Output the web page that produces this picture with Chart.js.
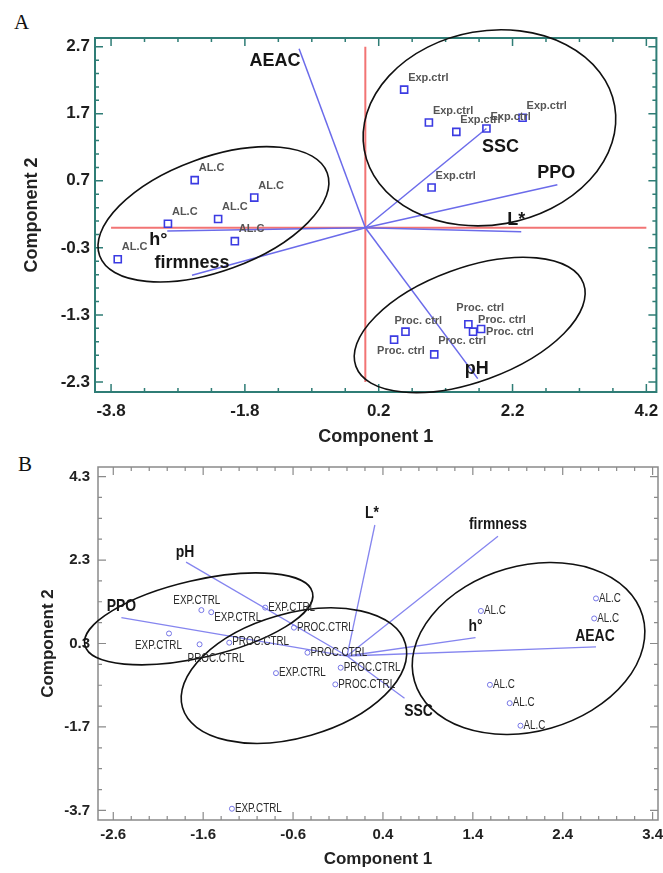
<!DOCTYPE html>
<html>
<head>
<meta charset="utf-8">
<script src="https://cdn.jsdelivr.net/npm/chart.js@4.4.1/dist/chart.umd.min.js"></script>
<style>
	body { margin: 0; background: #fff; width: 663px; height: 873px; position: relative; overflow: hidden; }
	canvas { position: absolute; left: 0; }
	#chartA { top: 0; }
	#chartB { top: 450px; }
	.tag { position: absolute; font: 21px 'Liberation Serif', 'Times New Roman', serif; color: #111; }
</style>
</head>
<body>
<div class="tag" style="left:14px; top:10px;">A</div>
<div class="tag" style="left:18px; top:452px;">B</div>
<canvas id="chartA" width="663" height="450"></canvas>
<canvas id="chartB" width="663" height="423"></canvas>
<script>
'use strict';

// ---------- panel A ----------
var aXTicks = [-3.8, -1.8, 0.2, 2.2, 4.2];
var aYTicks = [-2.3, -1.3, -0.3, 0.7, 1.7, 2.7];

var aAlcX = [-2.55, -1.66, -2.20, -2.95, -1.95, -3.70];
var aAlcY = [0.71, 0.45, 0.13, 0.06, -0.20, -0.47];
var aExpX = [0.58, 0.95, 1.36, 1.81, 2.35, 0.99];
var aExpY = [2.06, 1.57, 1.43, 1.48, 1.64, 0.60];
var aProcX = [0.43, 0.60, 1.03, 1.54, 1.61, 1.73];
var aProcY = [-1.67, -1.55, -1.89, -1.44, -1.55, -1.51];

var aVarNames = ['AEAC', 'SSC', 'PPO', 'L*', 'h°', 'firmness', 'pH'];
var aVarX = [-0.99, 1.81, 2.87, 2.33, -2.96, -2.59, 1.68];
var aVarY = [2.67, 1.48, 0.64, -0.06, -0.05, -0.71, -2.25];

// group ellipses: centre x, centre y, semi axes (x units), tilt in degrees
var aEllipses = [
	[-2.27, 0.20, 1.81, 0.85, 20],
	[1.855, 1.49, 1.90, 1.45, 10],
	[1.56, -1.45, 1.81, 0.85, 20],
];

// ---------- panel B ----------
var bXTicks = [-2.6, -1.6, -0.6, 0.4, 1.4, 2.4, 3.4];
var bYTicks = [-3.7, -1.7, 0.3, 2.3, 4.3];

var bExpX = [-1.62, -1.51, -1.98, -0.91, -0.79, -1.28];
var bExpY = [1.10, 1.05, 0.54, 1.16, -0.41, -3.66];
var bProcX = [-1.64, -1.31, -0.59, -0.44, -0.07, -0.13];
var bProcY = [0.28, 0.32, 0.68, 0.08, -0.28, -0.68];
var bAlcX = [2.77, 2.75, 1.49, 1.59, 1.81, 1.93];
var bAlcY = [1.38, 0.90, 1.08, -0.69, -1.13, -1.67];

var bVarNames = ['L*', 'firmness', 'pH', 'SSC', 'PPO', 'h°', 'AEAC'];
var bVarX = [0.31, 1.68, -1.79, 0.64, -2.51, 1.43, 2.77];
var bVarY = [3.14, 2.87, 2.25, -1.01, 0.92, 0.44, 0.22];

var bEllipses = [
	[-1.65, 0.89, 1.30, 0.43, 13],
	[-0.59, -0.47, 1.29, 0.69, 16],
	[2.02, 0.18, 1.32, 0.92, 16],
];

var SANS = "'Liberation Sans', Arial, sans-serif";
var NARROW = "'Liberation Sans Narrow', 'Arial Narrow', 'Liberation Sans', sans-serif";

function pairs(xs, ys) {
	return xs.map(function (v, i) { return { x: v, y: ys[i] }; });
}

function tickRange(first, step, min, max) {
	var out = [];
	var v = first;
	while (v - step >= min) v -= step;
	for (; v <= max + 1e-9; v += step) out.push(+v.toFixed(4));
	return out;
}

function isMajor(v, majors) {
	return majors.some(function (m) { return Math.abs(m - v) < 1e-6; });
}

// text drawn with an optional horizontal squeeze (no narrow font installed)
function squeezedText(ctx, text, x, y, sq) {
	ctx.save();
	ctx.translate(x, y);
	ctx.scale(sq, 1);
	ctx.fillText(text, 0, 0);
	ctx.restore();
}

var biplotDecor = {
	id: 'biplotDecor',
	afterDraw: function (chart, args, o) {
		var ctx = chart.ctx;
		var ca = chart.chartArea;
		var xs = chart.scales.x;
		var ys = chart.scales.y;
		ctx.save();

		// frame with inward tick marks on all four sides
		ctx.strokeStyle = o.frameColor;
		ctx.lineWidth = o.frameWidth;
		ctx.strokeRect(ca.left, ca.top, ca.right - ca.left, ca.bottom - ca.top);
		ctx.lineWidth = o.tickWidth;
		ctx.beginPath();
		tickRange(o.xTicks[0], o.xMinor, xs.min, xs.max).forEach(function (v) {
			var px = xs.getPixelForValue(v);
			var len = isMajor(v, o.xTicks) ? o.majorLen : o.minorLen;
			ctx.moveTo(px, ca.bottom); ctx.lineTo(px, ca.bottom - len);
			ctx.moveTo(px, ca.top); ctx.lineTo(px, ca.top + len);
		});
		tickRange(o.yTicks[0], o.yMinor, ys.min, ys.max).forEach(function (v) {
			var py = ys.getPixelForValue(v);
			var len = isMajor(v, o.yTicks) ? o.majorLen : o.minorLen;
			ctx.moveTo(ca.left, py); ctx.lineTo(ca.left + len, py);
			ctx.moveTo(ca.right, py); ctx.lineTo(ca.right - len, py);
		});
		ctx.stroke();

		// group ellipses
		var unit = Math.abs(xs.getPixelForValue(1) - xs.getPixelForValue(0));
		ctx.strokeStyle = '#111';
		ctx.lineWidth = 1.6;
		o.ellipses.forEach(function (e) {
			ctx.beginPath();
			ctx.ellipse(xs.getPixelForValue(e[0]), ys.getPixelForValue(e[1]),
				e[2] * unit, e[3] * unit, -e[4] * Math.PI / 180, 0, Math.PI * 2);
			ctx.stroke();
		});

		// point and vector labels
		ctx.textBaseline = 'middle';
		chart.data.datasets.forEach(function (ds, di) {
			var meta = chart.getDatasetMeta(di);
			if (ds.pointLabel) {
				ctx.font = o.pointFont;
				ctx.fillStyle = o.pointLabelColor;
				ctx.textAlign = 'left';
				meta.data.forEach(function (el, i) {
					var off = (ds.labelOffsets && ds.labelOffsets[i]) || o.pointOffset;
					squeezedText(ctx, ds.pointLabel, el.x + off[0], el.y + off[1], o.squeeze);
				});
			}
			if (ds.vecLabel) {
				var end = meta.data[1];
				ctx.font = o.vecFont;
				ctx.fillStyle = '#161616';
				ctx.textAlign = 'center';
				squeezedText(ctx, ds.vecLabel, end.x + ds.vecOffset[0], end.y + ds.vecOffset[1], o.squeeze);
			}
		});
		ctx.restore();
	},
};

function pointSet(name, xs, ys, style, offsets) {
	return Object.assign({
		data: pairs(xs, ys),
		pointLabel: name,
		labelOffsets: offsets || null,
		showLine: false,
		backgroundColor: 'rgba(255,255,255,0)',
	}, style);
}

function vectorSets(names, xs, ys, offsets, color, width) {
	return names.map(function (n, i) {
		return {
			data: [{ x: 0, y: 0 }, { x: xs[i], y: ys[i] }],
			vecLabel: n,
			vecOffset: offsets[i],
			showLine: true,
			borderColor: color,
			borderWidth: width,
			pointRadius: 0,
			pointHoverRadius: 0,
		};
	});
}

function axes(cfg) {
	return {
		x: {
			type: 'linear',
			min: cfg.xMin,
			max: cfg.xMax,
			grid: { display: false, drawTicks: false },
			border: { display: false },
			afterBuildTicks: function (s) { s.ticks = cfg.xTicks.map(function (v) { return { value: v }; }); },
			afterFit: function (s) { s.height = cfg.xAxisH; s.paddingLeft = 0; s.paddingRight = 0; },
			ticks: {
				autoSkip: false, maxRotation: 0, padding: cfg.xTickPad,
				color: cfg.tickColor, font: cfg.tickFont,
				callback: function (v) { return v.toFixed(1); },
			},
			title: { display: true, text: 'Component 1', color: '#222', font: cfg.xTitleFont, padding: { top: 0, bottom: cfg.xTitlePad } },
		},
		y: {
			type: 'linear',
			min: cfg.yMin,
			max: cfg.yMax,
			grid: { display: false, drawTicks: false },
			border: { display: false },
			afterBuildTicks: function (s) { s.ticks = cfg.yTicks.map(function (v) { return { value: v }; }); },
			afterFit: function (s) { s.width = cfg.yAxisW; s.paddingTop = 0; s.paddingBottom = 0; },
			ticks: {
				autoSkip: false, padding: cfg.yTickPad,
				color: cfg.tickColor, font: cfg.tickFont,
				callback: function (v) { return v.toFixed(1); },
			},
			title: { display: true, text: 'Component 2', color: '#222', font: cfg.yTitleFont, padding: { top: cfg.yTitlePad, bottom: 0 } },
		},
	};
}

// ---------- chart A ----------
var aSquare = { pointStyle: 'rect', pointRadius: 5, pointBorderWidth: 1.6, borderColor: '#3b3be2', pointBorderColor: '#3b3be2' };

new Chart(document.getElementById('chartA'), {
	type: 'scatter',
	data: {
		datasets: [
			pointSet('AL.C', aAlcX, aAlcY, aSquare),
			pointSet('Exp.ctrl', aExpX, aExpY, aSquare),
			pointSet('Proc. ctrl', aProcX, aProcY, aSquare,
				[[-17, 11], [-11, -11], [4, -13], [-12, -16], [13, 0], [-3, -9]]),
		].concat(
			vectorSets(aVarNames, aVarX, aVarY,
				[[-24, 12], [14, 19], [-1, -12], [-5, -12], [-9, 9], [0, -12], [-1, -10]],
				'#6b6bea', 1.5),
			[
				{ data: [{ x: aXTicks[0], y: 0 }, { x: aXTicks[aXTicks.length - 1], y: 0 }], showLine: true, borderColor: '#f27474', borderWidth: 2, pointRadius: 0 },
				{ data: [{ x: 0, y: aYTicks[0] }, { x: 0, y: aYTicks[aYTicks.length - 1] }], showLine: true, borderColor: '#f27474', borderWidth: 2, pointRadius: 0 },
			]
		),
	},
	options: {
		responsive: false,
		animation: false,
		devicePixelRatio: 1,
		layout: { padding: { top: 38, right: 3, left: 0, bottom: 0 } },
		plugins: {
			legend: { display: false },
			tooltip: { enabled: false },
			biplotDecor: {
				frameColor: '#2f7d76', frameWidth: 2, tickWidth: 1.5, majorLen: 8, minorLen: 4,
				xTicks: aXTicks, yTicks: aYTicks, xMinor: 0.5, yMinor: 0.2,
				ellipses: aEllipses, squeeze: 1,
				pointFont: 'bold 11px ' + SANS, pointLabelColor: '#555', pointOffset: [4, -12],
				vecFont: 'bold 18px ' + SANS,
			},
		},
		scales: axes({
			xMin: -4.04, xMax: 4.35, yMin: -2.45, yMax: 2.83,
			xTicks: aXTicks, yTicks: aYTicks,
			xAxisH: 58, yAxisW: 95, xTickPad: 9, yTickPad: 5,
			tickColor: '#1e1e1e', tickFont: { family: NARROW, size: 17, weight: 'bold' },
			xTitleFont: { family: SANS, size: 18, weight: 'bold' }, xTitlePad: 2,
			yTitleFont: { family: SANS, size: 18, weight: 'bold' }, yTitlePad: 21,
		}),
	},
	plugins: [biplotDecor],
});

// ---------- chart B ----------
var bCircle = { pointStyle: 'circle', pointRadius: 2.5, pointBorderWidth: 1, borderColor: '#7676e6', pointBorderColor: '#7676e6' };

new Chart(document.getElementById('chartB'), {
	type: 'scatter',
	data: {
		datasets: [
			pointSet('EXP.CTRL', bExpX, bExpY, bCircle,
				[[-28, -9], [3, 5], [-34, 12], [3, 0], [3, 0], [3, 0]]),
			pointSet('PROC.CTRL', bProcX, bProcY, bCircle,
				[[-12, 14], [3, -1], [3, 0], [3, 0], [3, 0], [3, 0]]),
			pointSet('AL.C', bAlcX, bAlcY, bCircle),
		].concat(
			vectorSets(bVarNames, bVarX, bVarY,
				[[-3, -12], [0, -12], [-1, -10], [14, 13], [0, -11], [0, -11], [-1, -11]],
				'#8585ef', 1.3)
		),
	},
	options: {
		responsive: false,
		animation: false,
		devicePixelRatio: 1,
		layout: { padding: { top: 17, right: 3, left: 0, bottom: 0 } },
		plugins: {
			legend: { display: false },
			tooltip: { enabled: false },
			biplotDecor: {
				frameColor: '#8a8a8a', frameWidth: 1.5, tickWidth: 1.2, majorLen: 8, minorLen: 4,
				xTicks: bXTicks, yTicks: bYTicks, xMinor: 0.2, yMinor: 0.5,
				ellipses: bEllipses, squeeze: 0.82,
				pointFont: '12px ' + NARROW, pointLabelColor: '#2a2a2a', pointOffset: [3, 0],
				vecFont: 'bold 17px ' + NARROW,
			},
		},
		scales: axes({
			xMin: -2.77, xMax: 3.46, yMin: -3.93, yMax: 4.53,
			xTicks: bXTicks, yTicks: bYTicks,
			xAxisH: 53, yAxisW: 98, xTickPad: 6, yTickPad: 8,
			tickColor: '#222', tickFont: { family: NARROW, size: 15, weight: 'bold' },
			xTitleFont: { family: NARROW, size: 17, weight: 'bold' }, xTitlePad: 3,
			yTitleFont: { family: SANS, size: 17, weight: 'bold' }, yTitlePad: 38,
		}),
	},
	plugins: [biplotDecor],
});
</script>
</body>
</html>
